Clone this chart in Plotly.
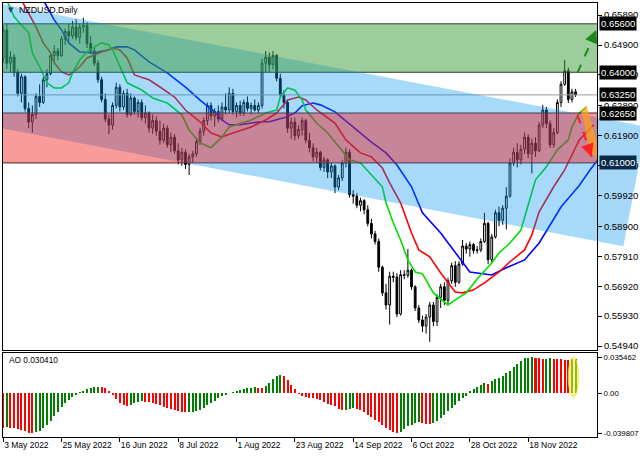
import plotly.graph_objects as go

# ---------------- data ----------------
date_tick_bars = [0, 16, 32, 48, 64, 80, 96, 112, 128, 144]
date_tick_text = ["3 May 2022", "25 May 2022", "16 Jun 2022", "8 Jul 2022", "1 Aug 2022",
                  "23 Aug 2022", "14 Sep 2022", "6 Oct 2022", "28 Oct 2022", "18 Nov 2022"]

open_ = [
    .6445, .6540, .6430, .6450, .6400, .6330, .6385, .6280, .6235, .6260,
    .6320, .6300, .6375, .6395, .6455, .6470, .6455, .6510, .6535, .6520,
    .6550, .6515, .6550, .6555, .6495, .6470, .6430, .6375, .6310, .6245,
    .6225, .6290, .6350, .6285, .6330, .6260, .6315, .6270, .6300, .6250,
    .6265, .6215, .6240, .6205, .6175, .6215, .6160, .6185, .6140, .6110,
    .6135, .6095, .6120, .6130, .6170, .6205, .6240, .6290, .6255, .6270,
    .6245, .6285, .6275, .6330, .6270, .6290, .6265, .6300, .6280, .6290,
    .6275, .6290, .6430, .6450, .6425, .6455, .6380, .6325, .6300, .6215,
    .6235, .6190, .6210, .6240, .6175, .6150, .6120, .6135, .6085, .6110,
    .6070, .6090, .6020, .6050, .6100, .6135, .5995, .5990, .5960, .5975,
    .5945, .5900, .5865, .5840, .5755, .5670, .5630, .5725, .5722, .5600,
    .5730, .5728, .5745, .5690, .5620, .5580, .5560, .5590, .5630, .5575,
    .5655, .5690, .5645, .5710, .5760, .5705, .5765, .5825, .5815, .5830,
    .5810, .5812, .5840, .5900, .5780, .5855, .5935, .5910, .5950, .5990,
    .6100, .6135, .6110, .6145, .6185, .6130, .6165, .6140, .6225, .6275,
    .6230, .6160, .6200, .6300, .6360, .6405, .6310, .6335]
high = [
    .6555, .6560, .6470, .6460, .6410, .6395, .6390, .6300, .6290, .6330,
    .6360, .6385, .6410, .6465, .6490, .6480, .6520, .6545, .6560, .6570,
    .6575, .6560, .6580, .6565, .6520, .6480, .6440, .6385, .6330, .6260,
    .6300, .6365, .6360, .6340, .6345, .6330, .6320, .6310, .6310, .6290,
    .6270, .6260, .6255, .6240, .6230, .6225, .6200, .6195, .6165, .6150,
    .6145, .6130, .6140, .6180, .6215, .6250, .6300, .6300, .6280, .6290,
    .6300, .6330, .6350, .6345, .6300, .6305, .6310, .6320, .6300, .6310,
    .6300, .6445, .6470, .6465, .6470, .6460, .6395, .6340, .6310, .6250,
    .6250, .6225, .6250, .6245, .6200, .6165, .6150, .6140, .6120, .6115,
    .6100, .6095, .6060, .6110, .6150, .6145, .6010, .6000, .5985, .5980,
    .5960, .5915, .5875, .5850, .5760, .5700, .5740, .5740, .5735, .5745,
    .5745, .5815, .5750, .5695, .5630, .5595, .5600, .5640, .5640, .5665,
    .5700, .5705, .5720, .5770, .5775, .5775, .5845, .5835, .5840, .5835,
    .5825, .5850, .5935, .5905, .5865, .5945, .5955, .5960, .6020, .6115,
    .6150, .6165, .6160, .6200, .6195, .6180, .6185, .6235, .6292, .6285,
    .6240, .6215, .6310, .6370, .6441, .6415, .6345, .6345]
low = [
    .6430, .6410, .6400, .6385, .6320, .6300, .6270, .6215, .6200, .6245,
    .6285, .6295, .6350, .6390, .6430, .6440, .6450, .6490, .6500, .6510,
    .6505, .6495, .6530, .6480, .6460, .6420, .6365, .6300, .6235, .6195,
    .6210, .6280, .6270, .6275, .6250, .6255, .6260, .6250, .6240, .6230,
    .6200, .6195, .6190, .6160, .6165, .6150, .6135, .6130, .6095, .6090,
    .6080, .6060, .6100, .6120, .6160, .6190, .6225, .6240, .6220, .6235,
    .6240, .6260, .6265, .6260, .6250, .6255, .6255, .6270, .6260, .6270,
    .6265, .6280, .6400, .6400, .6410, .6370, .6315, .6280, .6200, .6180,
    .6175, .6180, .6190, .6165, .6135, .6105, .6100, .6075, .6070, .6050,
    .6050, .6000, .6010, .6040, .6085, .5985, .5965, .5950, .5940, .5930,
    .5890, .5850, .5830, .5740, .5660, .5615, .5565, .5705, .5590, .5595,
    .5715, .5720, .5680, .5610, .5570, .5540, .5535, .5508, .5560, .5560,
    .5620, .5630, .5630, .5700, .5690, .5700, .5760, .5800, .5790, .5800,
    .5800, .5805, .5835, .5765, .5770, .5850, .5890, .5895, .5880, .5985,
    .6090, .6085, .6095, .6130, .6115, .6065, .6120, .6135, .6215, .6215,
    .6150, .6150, .6195, .6285, .6355, .6298, .6300, .6318]
close = [
    .6540, .6430, .6450, .6400, .6330, .6385, .6280, .6235, .6260, .6320,
    .6300, .6375, .6395, .6455, .6470, .6455, .6510, .6535, .6520, .6550,
    .6515, .6550, .6555, .6495, .6470, .6430, .6375, .6310, .6245, .6225,
    .6290, .6350, .6285, .6330, .6260, .6315, .6270, .6300, .6250, .6265,
    .6215, .6240, .6205, .6175, .6215, .6160, .6185, .6140, .6110, .6135,
    .6095, .6120, .6130, .6170, .6205, .6240, .6290, .6255, .6270, .6245,
    .6285, .6275, .6330, .6270, .6290, .6265, .6300, .6280, .6290, .6275,
    .6290, .6430, .6450, .6425, .6455, .6380, .6325, .6300, .6215, .6235,
    .6190, .6210, .6240, .6175, .6150, .6120, .6135, .6085, .6110, .6070,
    .6090, .6020, .6050, .6100, .6135, .5995, .5990, .5960, .5975, .5945,
    .5900, .5865, .5840, .5755, .5670, .5630, .5725, .5722, .5600, .5730,
    .5728, .5745, .5690, .5620, .5580, .5560, .5590, .5630, .5575, .5655,
    .5690, .5645, .5710, .5760, .5705, .5765, .5825, .5815, .5830, .5810,
    .5812, .5840, .5900, .5780, .5855, .5935, .5910, .5950, .5990, .6100,
    .6135, .6110, .6145, .6185, .6130, .6165, .6140, .6225, .6275, .6230,
    .6160, .6200, .6300, .6360, .6405, .6310, .6335, .6325]

# Alligator lines (bar index, value) - already shifted forward as drawn
jaw_bar = [11, 14, 16, 18, 21, 25, 29, 31, 34, 36, 40, 45, 50, 54, 58, 60, 62, 65, 68, 71,
           73, 77, 80, 82, 85, 87, 91, 96, 101, 105, 108, 112, 115, 120, 125, 128, 134, 138, 143, 147,
           153, 158, 161, 163, 165]
jaw_val = [0.6639, 0.6573, 0.6540, 0.6497, 0.6467, 0.6464, 0.6474, 0.6484, 0.6484, 0.6474,
           0.6434, 0.6398, 0.6351, 0.6308, 0.6269, 0.6242, 0.6226, 0.6226, 0.6232, 0.6236,
           0.6236, 0.6249, 0.6265, 0.6289, 0.6298, 0.6292, 0.6269, 0.6219, 0.6169, 0.6133,
           0.6093, 0.6021, 0.5935, 0.5868, 0.5789, 0.5739, 0.5729, 0.5753, 0.5779, 0.5835,
           0.5954, 0.6025, 0.6077, 0.6110, 0.6140]
teeth_bar = [5, 7, 9, 11, 13, 14, 16, 18, 19, 21, 23, 25, 27, 29, 30, 32, 34, 36, 40, 43,
             47, 50, 54, 57, 60, 63, 68, 72, 75, 78, 81, 83, 86, 91, 94, 98, 101, 104, 106, 109,
             112, 114, 117, 120, 124, 126, 129, 132, 136, 139, 143, 145, 147, 151, 154, 158, 162]
teeth_val = [0.6639, 0.6596, 0.6550, 0.6497, 0.6464, 0.6431, 0.6401, 0.6391, 0.6398, 0.6418,
             0.6447, 0.6457, 0.6467, 0.6474, 0.6480, 0.6474, 0.6447, 0.6391, 0.6375, 0.6351,
             0.6318, 0.6275, 0.6236, 0.6199, 0.6186, 0.6199, 0.6219, 0.6242, 0.6265, 0.6308,
             0.6318, 0.6308, 0.6275, 0.6232, 0.6176, 0.6133, 0.6120, 0.6083, 0.6034, 0.5968,
             0.5868, 0.5812, 0.5789, 0.5736, 0.5673, 0.5670, 0.5680, 0.5703, 0.5739, 0.5773,
             0.5812, 0.5862, 0.5938, 0.6021, 0.6077, 0.6176, 0.6226]
lips_bar = [1, 3, 5, 7, 8, 10, 12, 14, 16, 18, 19, 21, 23, 25, 27, 29, 30, 32, 34, 38,
            41, 45, 49, 51, 54, 57, 60, 62, 68, 72, 75, 76, 78, 80, 82, 83, 86, 89, 92, 95,
            98, 101, 104, 105, 107, 109, 111, 113, 115, 118, 122, 124, 127, 130, 134, 136, 139, 142, 144, 146,
            149, 152, 155, 156, 158, 160]
lips_val = [0.6639, 0.6583, 0.6556, 0.6530, 0.6464, 0.6418, 0.6365, 0.6348, 0.6348, 0.6365,
            0.6398, 0.6441, 0.6467, 0.6484, 0.6497, 0.6490, 0.6474, 0.6418, 0.6365, 0.6341,
            0.6315, 0.6298, 0.6259, 0.6209, 0.6166, 0.6150, 0.6186, 0.6219, 0.6242, 0.6265,
            0.6275, 0.6318, 0.6348, 0.6341, 0.6308, 0.6275, 0.6232, 0.6199, 0.6153, 0.6110,
            0.6100, 0.6060, 0.6021, 0.5968, 0.5902, 0.5845, 0.5779, 0.5739, 0.5733, 0.5670,
            0.5630, 0.5647, 0.5670, 0.5716, 0.5769, 0.5802, 0.5835, 0.5878, 0.5961, 0.6044,
            0.6087, 0.6143, 0.6176, 0.6219, 0.6265, 0.6285]

ao = [
    -0.03476, -0.03409, -0.03442, -0.03476, -0.03542, -0.03674, -0.03807, -0.03939, -0.03981, -0.03906,
    -0.03740, -0.03476, -0.03145, -0.02747, -0.02317, -0.01887, -0.01423, -0.00993, -0.00662, -0.00397,
    -0.00166, 0.00066, 0.00232, 0.00397, 0.00497, 0.00563, 0.00579, 0.00573, 0.00463, 0.00166,
    -0.00166, -0.00596, -0.00993, -0.01225, -0.01291, -0.01159, -0.01026, -0.00894, -0.00828, -0.00861,
    -0.00927, -0.01026, -0.01125, -0.01225, -0.01357, -0.01490, -0.01622, -0.01721, -0.01821, -0.01887,
    -0.01920, -0.01903, -0.01887, -0.01787, -0.01655, -0.01456, -0.01225, -0.00993, -0.00761, -0.00530,
    -0.00331, -0.00166, -0.00033, 0.00099, 0.00199, 0.00298, 0.00364, 0.00463, 0.00530, 0.00563,
    0.00546, 0.00530, 0.00695, 0.01026, 0.01357, 0.01655, 0.01754, 0.01688, 0.01324, 0.00828,
    0.00364, -0.00066, -0.00265, -0.00397, -0.00497, -0.00530, -0.00596, -0.00695, -0.00894, -0.01059,
    -0.01192, -0.01324, -0.01589, -0.01721, -0.01655, -0.01556, -0.01490, -0.01589, -0.01721, -0.01920,
    -0.02152, -0.02383, -0.02648, -0.02913, -0.03211, -0.03476, -0.03707, -0.03873, -0.03981, -0.03873,
    -0.03542, -0.03310, -0.03145, -0.03012, -0.02913, -0.02979, -0.03045, -0.03111, -0.03012, -0.02780,
    -0.02483, -0.02152, -0.01821, -0.01490, -0.01159, -0.00828, -0.00530, -0.00265, 0.00166, 0.00364,
    0.00563, 0.00794, 0.00960, 0.00927, 0.01225, 0.01390, 0.01523, 0.01721, 0.01953, 0.02218,
    0.02549, 0.02880, 0.03211, 0.03442, 0.03509, 0.035462, 0.03509, 0.03442, 0.03409, 0.03426,
    0.03442, 0.03409, 0.03376, 0.03343, 0.03310, 0.03277, 0.03376, 0.03409]

price_ticks = [0.6589, 0.6490, 0.6391, 0.6289, 0.6190, 0.6091, 0.5992, 0.5890, 0.5791, 0.5692, 0.5593, 0.5494]
level_prices = [0.6560, 0.6400, 0.6325, 0.6265, 0.6100]
level_bg = ["#000000", "#000000", "#000000", "#000000", "#0b2a4a"]
ao_ticks = [0.035462, 0.0, -0.039807]
ao_tick_text = ["0.035462", "0.00", "-0.039807"]
ao_value_text = "AO 0.030410"

# zones / drawn objects
green_zone = (0.6400, 0.6560)
pink_zone = (0.6100, 0.6265)
chan_top0, chan_bot0, chan_slope = 0.6624, 0.6214, -0.000229   # value at bar 0, per-bar slope
up_arrow = ((157.5, 0.6398), (162.7, 0.6540))
down_arrow = ((157.5, 0.6259), (161.4, 0.6120))
wedge_bar = [158.6, 160.0, 163.3, 163.0, 160.8]
wedge_val = [0.6275, 0.6289, 0.6150, 0.6110, 0.6143]
ellipse_bars = (155.0, 157.8)
ellipse_vals = (-0.0040, 0.0357)

# ---------------- layout constants ----------------
W, H = 640, 457
ML, MR, MT, MB = 3, 43, 3, 20
XR = (-0.05, 162.87)
YR = (0.5481, 0.6629)
YR2 = (-0.0437, 0.0397)
DOM1 = (0.2005, 1.0)
DOM2 = (0.0, 0.1935)
FONT = "Liberation Sans"

idx = list(range(len(close)))

fig = go.Figure()
fig.add_trace(go.Candlestick(
    x=idx, open=open_, high=high, low=low, close=close,
    increasing=dict(line=dict(color="black", width=1), fillcolor="white"),
    decreasing=dict(line=dict(color="black", width=1), fillcolor="black"),
    whiskerwidth=0, xaxis="x", yaxis="y", showlegend=False, hoverinfo="skip"))
for bx, vy, col in [(jaw_bar, jaw_val, "#0000ff"), (teeth_bar, teeth_val, "#ff0000"),
                    (lips_bar, lips_val, "#00e000")]:
    fig.add_trace(go.Scatter(x=bx, y=vy, mode="lines", line=dict(color=col, width=1.6),
                             xaxis="x", yaxis="y", showlegend=False, hoverinfo="skip"))

ao_colors = []
for k, v in enumerate(ao):
    if k == 0:
        ao_colors.append("#ff0000")
    else:
        ao_colors.append("#008000" if v > ao[k - 1] else "#ff0000")
fig.add_trace(go.Bar(x=idx, y=ao, marker=dict(color=ao_colors, line=dict(width=0)), width=0.55,
                     xaxis="x2", yaxis="y2", showlegend=False, hoverinfo="skip"))


def chan_top(b):
    return chan_top0 + chan_slope * b


def chan_bot(b):
    return chan_bot0 + chan_slope * b


def px(b):
    return (b - XR[0]) / (XR[1] - XR[0])


def py(v):
    return DOM1[0] + (v - YR[0]) / (YR[1] - YR[0]) * (DOM1[1] - DOM1[0])


shapes = []
# horizontal level lines
for lv in [0.6560, 0.6400, 0.6265, 0.6100]:
    shapes.append(dict(type="line", xref="x", yref="y", x0=-5, x1=170, y0=lv, y1=lv,
                       line=dict(color="#222222", width=1), layer="above"))
shapes.append(dict(type="line", xref="x", yref="y", x0=-5, x1=170, y0=0.6325, y1=0.6325,
                   line=dict(color="#9a9a9a", width=1), layer="above"))

# channel (inside plot, above traces)
b_end_top, b_end_bot = 176.4, 170.1
chan_path = "M {a},{b} L {c},{d} L {e},{f} L {g},{h} Z".format(
    a=-5, b=chan_top(-5), c=b_end_top, d=chan_top(b_end_top),
    e=b_end_bot, f=chan_bot(b_end_bot), g=-5, h=chan_bot(-5))
shapes.append(dict(type="path", xref="x", yref="y", path=chan_path,
                   fillcolor="rgb(0,145,240)", opacity=0.35, line=dict(width=0), layer="above"))
# channel part in the price-scale margin (paper coords, below axis labels)
chan_path_p = "M {a},{b} L {c},{d} L {e},{f} L {g},{h} Z".format(
    a=1.0, b=py(chan_top(XR[1])), c=px(b_end_top), d=py(chan_top(b_end_top)),
    e=px(b_end_bot), f=py(chan_bot(b_end_bot)), g=1.0, h=py(chan_bot(XR[1])))
shapes.append(dict(type="path", xref="paper", yref="paper", path=chan_path_p,
                   fillcolor="rgb(166,216,249)", line=dict(width=0), layer="below"))

# zones
shapes.append(dict(type="rect", xref="x", yref="y", x0=-5, x1=170, y0=green_zone[0], y1=green_zone[1],
                   fillcolor="rgb(60,155,60)", opacity=0.5, line=dict(width=0), layer="above"))
shapes.append(dict(type="rect", xref="x", yref="y", x0=-5, x1=170, y0=pink_zone[0], y1=pink_zone[1],
                   fillcolor="rgb(243,17,17)", opacity=0.42, line=dict(width=0), layer="above"))

# orange wedge
wp = "M " + " L ".join("{},{}".format(b, v) for b, v in zip(wedge_bar, wedge_val)) + " Z"
shapes.append(dict(type="path", xref="x", yref="y", path=wp, fillcolor="rgb(255,160,20)",
                   opacity=0.7, line=dict(width=0), layer="above"))
# dashed arrows
shapes.append(dict(type="line", xref="x", yref="y", x0=up_arrow[0][0], y0=up_arrow[0][1],
                   x1=up_arrow[1][0], y1=up_arrow[1][1],
                   line=dict(color="#1a8a1a", width=2, dash="dash"), layer="above"))
shapes.append(dict(type="line", xref="x", yref="y", x0=down_arrow[0][0], y0=down_arrow[0][1],
                   x1=down_arrow[1][0], y1=down_arrow[1][1],
                   line=dict(color="#ff2020", width=2, dash="dash"), layer="above"))
# yellow ellipse on AO
shapes.append(dict(type="circle", xref="x2", yref="y2", x0=ellipse_bars[0], x1=ellipse_bars[1],
                   y0=ellipse_vals[0], y1=ellipse_vals[1], fillcolor="rgba(255,235,60,0.55)",
                   line=dict(color="rgba(255,225,40,0.8)", width=1), layer="above"))

annotations = []
# arrow heads
annotations.append(dict(x=up_arrow[1][0], y=up_arrow[1][1], xref="x", yref="y", text="",
                        showarrow=True, arrowhead=2, arrowsize=1.3, arrowwidth=2,
                        arrowcolor="#1a8a1a", ax=-3, ay=7))
annotations.append(dict(x=down_arrow[1][0], y=down_arrow[1][1], xref="x", yref="y", text="",
                        showarrow=True, arrowhead=2, arrowsize=1.3, arrowwidth=2,
                        arrowcolor="#ff2020", ax=-2.5, ay=-7))
# level labels on the price scale
for lv, bg in zip(level_prices, level_bg):
    annotations.append(dict(x=1.0, xref="paper", xshift=2, xanchor="left", y=lv, yref="y",
                            yanchor="middle", text="{:.5f}".format(lv), showarrow=False,
                            font=dict(family=FONT, size=9.5, color="white"),
                            bgcolor=bg, borderpad=1))
# title & AO caption
annotations.append(dict(x=(6 - ML) / 594, y=(457 - MB - 10) / 434, xref="paper", yref="paper",
                        xanchor="left", yanchor="middle", text="▼", showarrow=False,
                        font=dict(family="DejaVu Sans", size=7, color="#1f3f77")))
annotations.append(dict(x=(17 - ML) / 594, y=(457 - MB - 10) / 434, xref="paper", yref="paper",
                        xanchor="left", yanchor="middle", text="NZDUSD,Daily", showarrow=False,
                        font=dict(family=FONT, size=8.8, color="black")))
annotations.append(dict(x=(7 - ML) / 594, y=(437 - 360) / 434, xref="paper", yref="paper",
                        xanchor="left", yanchor="middle", text=ao_value_text, showarrow=False,
                        font=dict(family=FONT, size=8.3, color="black")))

axis_common = dict(showgrid=False, zeroline=False, showline=True, linecolor="black",
                   linewidth=1, mirror=True, automargin=False)
fig.update_layout(
    template="none",
    width=W, height=H, margin=dict(l=ML, r=MR, t=MT, b=MB, autoexpand=False),
    paper_bgcolor="white", plot_bgcolor="white", showlegend=False, bargap=0,
    shapes=shapes, annotations=annotations,
    xaxis=dict(domain=[0, 1], range=list(XR), anchor="y", showticklabels=False, ticks="",
               rangeslider=dict(visible=False), **axis_common),
    yaxis=dict(domain=list(DOM1), range=list(YR), side="right", anchor="x",
               tickvals=price_ticks, ticktext=["{:.5f}".format(t) for t in price_ticks],
               ticks="outside", ticklen=4, tickcolor="black",
               tickfont=dict(family=FONT, size=9.5, color="black"), **axis_common),
    xaxis2=dict(domain=[0, 1], range=list(XR), anchor="y2", tickvals=date_tick_bars,
                ticktext=date_tick_text, ticks="outside", ticklen=4, tickcolor="black",
                ticklabelposition="outside right",
                tickfont=dict(family=FONT, size=8.5, color="black"), **axis_common),
    yaxis2=dict(domain=list(DOM2), range=list(YR2), side="right", anchor="x2",
                tickvals=ao_ticks, ticktext=ao_tick_text, ticks="outside", ticklen=4,
                tickcolor="black", tickfont=dict(family=FONT, size=7.8, color="black"),
                **axis_common),
)

fig.write_html("out.html", config={"displayModeBar": False, "staticPlot": True},
               post_script="document.body.style.margin='0';")
